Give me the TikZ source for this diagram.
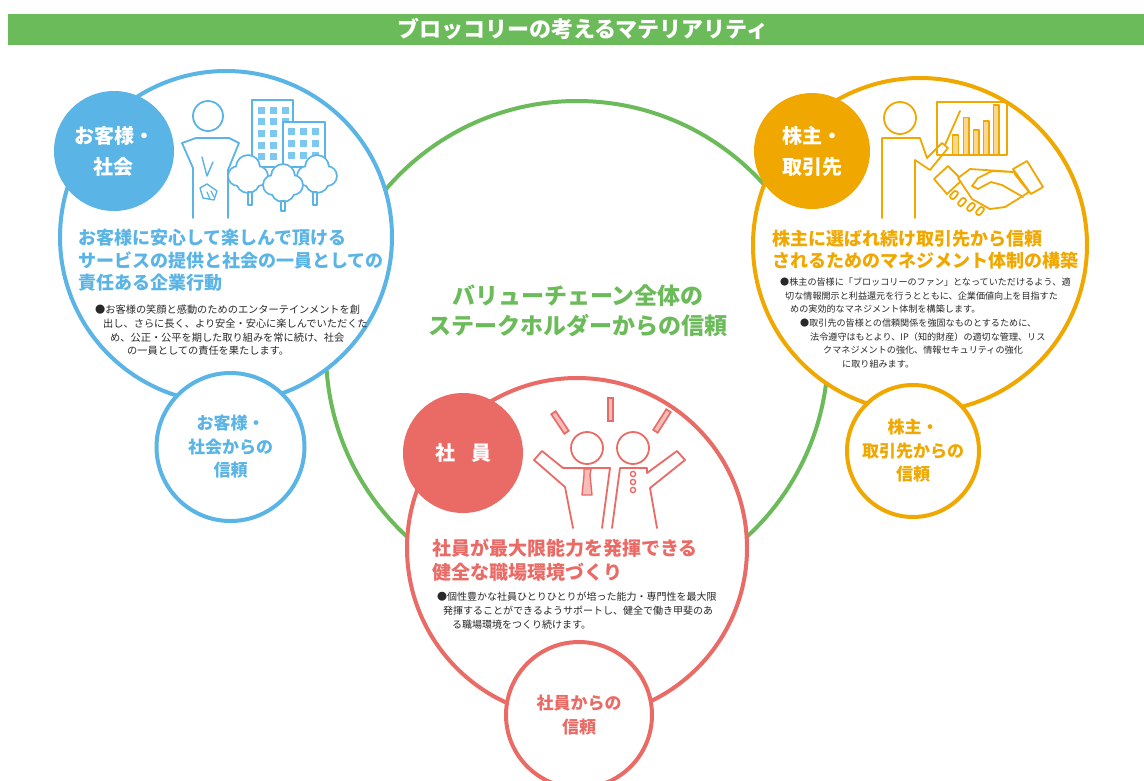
\documentclass[tikz,border=0pt]{standalone}
\usepackage{fontspec}
\setmainfont{Noto Sans CJK JP}
\definecolor{grn}{RGB}{108,187,90}
\definecolor{blu}{RGB}{90,180,229}
\definecolor{lblu}{RGB}{125,200,240}
\definecolor{org}{RGB}{240,168,0}
\definecolor{lorg}{RGB}{250,215,140}
\definecolor{rd}{RGB}{234,107,102}
\definecolor{lrd}{RGB}{246,190,186}
\definecolor{txt}{RGB}{40,40,40}
\tikzset{
  ring/.style={circle,draw=#1,line width=4pt,fill=white,inner sep=0pt,text=#1,align=center,
    font=\bfseries\fontsize{17}{23.5}\selectfont},
  badge/.style={circle,fill=#1,inner sep=0pt,text=white,align=center,
    font=\bfseries\fontsize{20}{31}\selectfont},
  icon/.style={draw=#1,line width=1.8pt},
  heading/.style={text=#1,align=left,anchor=west,inner sep=0pt,
    font=\bfseries\fontsize{18}{22.5}\selectfont},
  bodytext/.style={text=txt,align=left,anchor=west,inner sep=0pt}
}
% cloud-shaped tree: outline first, then white inside
\newcommand\treeblob[2]{%
  \draw[blu,line width=3.6pt] (#1,#2-7) circle (11) (#1-10,#2+2) circle (9)
    (#1+10,#2+2) circle (9) (#1,#2+7) circle (11);
  \fill[white] (#1,#2-7) circle (11) (#1-10,#2+2) circle (9)
    (#1+10,#2+2) circle (9) (#1,#2+7) circle (11);}
\newcommand\trunk[3]{\draw[icon=blu,fill=white,line width=1.4pt] (#1-2,#2) rectangle (#1+2,#3);}
% light bar with coloured rim
\newcommand\ray[2]{%
  \draw[rd,line width=7pt,line cap=butt] #1 -- #2;
  \draw[lrd,line width=3.4pt,line cap=butt,shorten <=1.8pt,shorten >=1.8pt] #1 -- #2;}
\begin{document}
\begin{tikzpicture}[x=1pt,y=-1pt,line join=round,line cap=round]
\useasboundingbox (0,0) rectangle (1144,780);
\fill[white] (0,0) rectangle (1144,780);

% title bar
\fill[grn] (8,14) rectangle (1144,45);
\node[text=white,font=\bfseries\fontsize{22}{22}\selectfont] (title) at (583,29.5) {ブロッコリーの考えるマテリアリティ};

% circles
\node[ring=grn,minimum size=502pt] (chain) at (577,352) {};
\node[ring=blu,minimum size=332pt] (cust) at (226,237) {};
\node[ring=org,minimum size=334pt] (share) at (920,245) {};
\node[ring=rd,minimum size=340pt] (staff) at (577,548) {};
\node[ring=blu,minimum size=148pt] (custtrust) at (230.5,447) {お客様・\\社会からの\\信頼};
\node[ring=org,minimum size=132pt] (sharetrust) at (913,451) {株主・\\取引先からの\\信頼};
\node[ring=rd,minimum size=146pt] (stafftrust) at (579,715) {社員からの\\信頼};
\node[badge=blu,minimum size=120pt] (custbadge) at (114,151) {お客様・\\社会};
\node[badge=org,minimum size=116pt] (sharebadge) at (812,151) {株主・\\取引先};
\node[badge=rd,minimum size=120pt] (staffbadge) at (463,453) {社\hspace{0.8em}員};

\node[text=grn,align=center,font=\bfseries\fontsize{23}{30}\selectfont] (chaintext) at (578,311)
  {バリューチェーン全体の\\ステークホルダーからの信頼};

% customers: person, buildings, trees
\draw[icon=blu,fill=white] (252,100) rectangle (293,167);
\foreach \c in {0,1,2} \foreach \r in {0,...,4}
  \fill[lblu] (258.3+11.7*\c,106.7+11.6*\r) rectangle ++(7,7);
\draw[icon=blu,fill=white] (283,122) rectangle (325,167);
\foreach \c in {0,1,2} \foreach \r in {0,...,2}
  \fill[lblu] (288.3+11.7*\c,128.3+11.7*\r) rectangle ++(7,7);
\treeblob{248}{174}
\treeblob{317}{174}
\trunk{250}{192}{205}
\trunk{315}{192}{205}
\treeblob{283}{183}
\trunk{283}{201}{211}
\draw[icon=blu] (208,116) circle (15);
\draw[icon=blu] (193,218) -- (193,168) -- (182,143) -- (196,138) -- (229,138) -- (239,143) -- (228,170) -- (228,218);
\draw[icon=blu,line width=1.4pt] (202,157) -- (207,176) -- (213,162);
\draw[icon=blu,fill=white,line width=1.4pt] (200,188) -- (207,184) -- (217,191) -- (214,200) -- (203,198) -- cycle;
\draw[icon=blu,line width=1.2pt] (207,192) -- (210,199) (211,191) -- (214,197);

\node[heading=blu] (custhead) at (78,260.5)
  {お客様に安心して楽しんで頂ける\\サービスの提供と社会の一員としての\\責任ある企業行動};
\node[bodytext,font=\fontsize{10.2}{13.7}\selectfont] (custbody) at (95,330.5)
  {●お客様の笑顔と感動のためのエンターテインメントを創\\
   \hspace*{8pt}出し、さらに長く、より安全・安心に楽しんでいただくた\\
   \hspace*{15pt}め、公正・公平を期した取り組みを常に続け、社会\\
   \hspace*{32pt}の一員としての責任を果たします。};

% shareholders: presenter, chart, handshake
\draw[icon=org] (900,118) circle (16);
\draw[icon=org] (882,218) -- (882,138) -- (920,138) -- (927,158) -- (942,143) -- (948,148) -- (930,170) -- (915,160) -- (915,218);
\draw[icon=org] (945,145) -- (960,111);
\draw[icon=org] (937,102) rectangle (1007,155);
\foreach \x/\t in {952.7/135,963.3/117.7,973.3/130,983.3/121,993.3/105}
  \draw[icon=org,fill=lorg,line width=1.2pt] (\x,\t) rectangle ++(5.7,155-\t);
\draw[icon=org,fill=white] (934,179) -- (948,166) -- (962,180) -- (947,194) -- cycle;
\draw[icon=org,fill=white] (1013,169) -- (1027,161) -- (1043,187) -- (1031,194) -- cycle;
\draw[icon=org,fill=white] (958,178) -- (970,169) -- (985,170) -- (1013,172) -- (1029,192) -- (1018,199) -- (1005,207) -- (990,209) -- (972,199) -- cycle;
\draw[icon=org,fill=white] (1013,172) -- (992,171) -- (978,178) -- (972,186) -- (978,189) -- (991,182) -- (1002,185) -- (1023,197);
\foreach \x/\y in {953/195,961/202,970/207,979/211}
  \draw[icon=org,fill=white,rounded corners=2.5pt] (\x-4,\y+2) -- (\x+2,\y-5) -- (\x+6,\y-2) -- (\x,\y+5) -- cycle;

\node[heading=org] (sharehead) at (772,249.5)
  {株主に選ばれ続け取引先から信頼\\されるためのマネジメント体制の構築};
\node[bodytext,font=\fontsize{9.1}{13.6}\selectfont] (sharebody) at (780,323)
  {●株主の皆様に「ブロッコリーのファン」となっていただけるよう、適\\
   \hspace*{5pt}切な情報開示と利益還元を行うとともに、企業価値向上を目指すた\\
   \hspace*{10pt}めの実効的なマネジメント体制を構築します。\\
   \hspace*{20pt}●取引先の皆様との信頼関係を強固なものとするために、\\
   \hspace*{30pt}法令遵守はもとより、IP（知的財産）の適切な管理、リス\\
   \hspace*{43pt}クマネジメントの強化、情報セキュリティの強化\\
   \hspace*{62pt}に取り組みます。};

% employees: two cheering people
\ray{(553,412)}{(567,433)}
\ray{(610.5,397)}{(610.5,422)}
\ray{(669,410)}{(655,432)}
\draw[icon=rd] (587,448) circle (16) (633,448) circle (16);
\draw[icon=rd] (573,528) -- (565,487) -- (534,460) -- (542,451) -- (563,468) -- (610,468) -- (602,528);
\draw[icon=rd] (612,528) -- (620,468) -- (647,468) -- (647,473) -- (677,451) -- (685,460) -- (650,488) -- (657,528);
\draw[icon=rd,fill=lrd,line width=1.4pt] (584,469) -- (591,469) -- (590,475) -- (592,495) -- (582,495) -- (584,475) -- cycle;
\foreach \y in {474,482,490} \draw[icon=rd,line width=1.4pt] (633,\y) circle (2.6);

\node[heading=rd,font=\bfseries\fontsize{19}{24}\selectfont] (staffhead) at (432,560)
  {社員が最大限能力を発揮できる\\健全な職場環境づくり};
\node[bodytext,font=\fontsize{10}{14}\selectfont] (staffbody) at (437,611)
  {●個性豊かな社員ひとりひとりが培った能力・専門性を最大限\\
   \hspace*{6pt}発揮することができるようサポートし、健全で働き甲斐のあ\\
   \hspace*{15pt}る職場環境をつくり続けます。};
\end{tikzpicture}
\end{document}
